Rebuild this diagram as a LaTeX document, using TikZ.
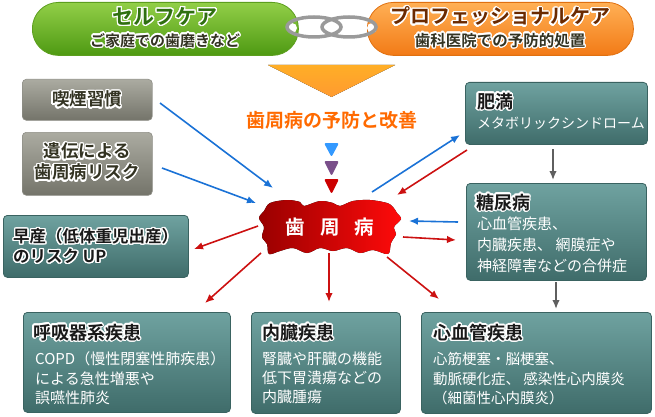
\documentclass[tikz,border=0pt]{standalone}
\usepackage{fontspec}
\setmainfont{Noto Sans CJK JP}[BoldFont={Noto Sans CJK JP Bold}]
\usepackage[copies]{contour}
\contourlength{1.3pt}
\contournumber{20}
\usetikzlibrary{arrows.meta}
\definecolor{tealtop}{HTML}{6FA2A0}
\definecolor{tealbot}{HTML}{3F6C6A}
\definecolor{tealedge}{HTML}{3A6361}
\definecolor{greytop}{HTML}{ABABA1}
\definecolor{greybot}{HTML}{74746A}
\definecolor{greyedge}{HTML}{8E8E86}
\definecolor{greentop}{HTML}{92CF48}
\definecolor{greenbot}{HTML}{4E9A12}
\definecolor{greenedge}{HTML}{5C9E1E}
\definecolor{orangetop}{HTML}{FFB055}
\definecolor{orangebot}{HTML}{F27A16}
\definecolor{orangeedge}{HTML}{E07010}
\definecolor{arrblue}{HTML}{1A72D6}
\definecolor{arrred}{HTML}{CC1111}
\definecolor{arrgrey}{HTML}{5F5F5F}
\definecolor{bigtri}{HTML}{FF9A30}
\definecolor{titgreen}{HTML}{2F7010}
\definecolor{titbrown}{HTML}{6B2A00}
\definecolor{orangetext}{HTML}{FF6A00}
\definecolor{blobdark}{HTML}{990000}
\definecolor{blobred}{HTML}{FF0A0A}
\definecolor{triblue}{HTML}{3399FF}
\definecolor{tripurple}{HTML}{7A4F8A}
\definecolor{trired}{HTML}{CC0000}
\definecolor{darktext}{HTML}{333322}
\definecolor{chain}{HTML}{9A9A9A}
\tikzset{
  box/.style={rounded corners=4pt, inner sep=0pt, anchor=north west},
  tealbox/.style={box, draw=tealedge, line width=0.8pt, top color=tealtop, bottom color=tealbot},
  greybox/.style={box, draw=greyedge, line width=0.6pt, top color=greytop, bottom color=greybot},
  pill/.style={anchor=north west, inner sep=0pt, minimum width=266pt, minimum height=53pt, rounded corners=26pt, line width=0.8pt},
  ttl/.style={inner sep=0pt, anchor=west, text=black!90, font=\bfseries\fontsize{18}{20}\selectfont},
  bod/.style={inner sep=0pt, anchor=west, text=white, font=\fontsize{15}{18}\selectfont},
  gtxt/.style={inner sep=0pt, text=darktext, font=\bfseries\fontsize{17.5}{20}\selectfont},
  arr/.style={line width=1.6pt, -{Latex[length=9pt,width=7.5pt]}},
  barr/.style={arr, draw=arrblue},
  rarr/.style={arr, draw=arrred},
  garr/.style={arr, draw=arrgrey},
  link/.style={draw=chain, line width=3.5pt}
}
\begin{document}
\begin{tikzpicture}[x=1pt,y=-1pt]
\useasboundingbox (0,0) rectangle (655,417);
% pills
\node[pill, draw=greenedge, top color=greentop, bottom color=greenbot] (self) at (32,2) {};
\node[pill, draw=orangeedge, top color=orangetop, bottom color=orangebot] (pro) at (367,2) {};
\fill[white] (292,28) circle (5);
\fill[white] (372,28) circle (5);
\draw[link] (314,27) ellipse (27 and 10);
\draw[link] (349,27) ellipse (27 and 10);
\node[inner sep=0pt, text=titgreen, font=\bfseries\fontsize{21}{24}\selectfont] (selft) at (165,17) {\contour{white}{セルフケア}};
\node[inner sep=0pt, text=darktext, font=\bfseries\fontsize{15}{18}\selectfont] (selfs) at (165,41) {\contour{white}{ご家庭での歯磨きなど}};
\node[inner sep=0pt, text=titbrown, font=\bfseries\fontsize{20}{24}\selectfont] (prot) at (500,17) {\contour{white}{プロフェッショナルケア}};
\node[inner sep=0pt, text=darktext, font=\bfseries\fontsize{15.5}{18}\selectfont] (pros) at (500,41) {\contour{white}{歯科医院での予防的処置}};
% big triangle and heading
\fill[top color=bigtri!80!yellow, bottom color=bigtri] (268,65) -- (395,65) -- (331.5,97) -- cycle;
\node[inner sep=0pt, text=orangetext, font=\bfseries\fontsize{19}{22}\selectfont] (prev) at (332,120) {歯周病の予防と改善};
\fill[triblue, rounded corners=2pt] (324,143) -- (339,143) -- (331.5,157) -- cycle;
\fill[tripurple, rounded corners=2pt] (324,161) -- (339,161) -- (331.5,176) -- cycle;
\fill[trired, rounded corners=2pt] (324,179) -- (339,179) -- (331.5,194) -- cycle;
% blob
\fill[left color=blobdark, right color=blobred] plot[smooth cycle, tension=0.55] coordinates {
 (270,203) (287,200) (300,202) (304,206) (320,201) (333,203) (340,206) (353,201) (370,200) (387,203) (393,207) (397,213) (401,219) (394,227) (396,234) (391,243) (388,254) (373,250) (360,253) (347,248) (333,251) (320,248) (307,253) (293,248) (280,251) (269,254) (267,244) (262,237) (264,227) (259,218) (264,211)};
\node[inner sep=0pt, text=white, font=\bfseries\fontsize{19.5}{22}\selectfont] (blob) at (330,227) {歯\hspace{15pt}周\hspace{15pt}病};
% left grey boxes
\node[greybox, minimum width=130pt, minimum height=41pt] (smoke) at (22,79) {};
\node[gtxt] (smoket) at (87,100) {\contour{white}{喫煙習慣}};
\node[greybox, minimum width=130pt, minimum height=63pt] (gene) at (22,132) {};
\node[gtxt] (genet1) at (87,152) {\contour{white}{遺伝による}};
\node[gtxt] (genet2) at (87,173) {\contour{white}{歯周病リスク}};
% preterm
\node[tealbox, minimum width=185pt, minimum height=62pt] (pre) at (3,215) {};
\node[ttl, font=\bfseries\fontsize{16.5}{20}\selectfont] (pret1) at (13,237) {\contour{white}{早産（低体重児出産）}};
\node[ttl, font=\bfseries\fontsize{16.5}{20}\selectfont] (pret2) at (13,257) {\contour{white}{のリスク UP}};
% obesity
\node[tealbox, minimum width=182pt, minimum height=62pt] (obes) at (465,82) {};
\node[ttl] (obest) at (477,102) {\contour{white}{肥満}};
\node[bod, font=\fontsize{14}{18}\selectfont] (obesb) at (477,123) {メタボリックシンドローム};
% diabetes
\node[tealbox, minimum width=180pt, minimum height=97pt] (diab) at (466,183) {};
\node[ttl] (diabt) at (476,203) {\contour{white}{糖尿病}};
\node[bod] (diab1) at (477,224) {心血管疾患、};
\node[bod] (diab2) at (477,245) {内臓疾患、 網膜症や};
\node[bod] (diab3) at (477,266) {神経障害などの合併症};
% bottom boxes
\node[tealbox, minimum width=207pt, minimum height=100pt] (resp) at (23,312) {};
\node[ttl] (respt) at (33,333) {\contour{white}{呼吸器系疾患}};
\node[bod] (resp1) at (35,359) {COPD（慢性閉塞性肺疾患）};
\node[bod] (resp2) at (35,379) {による急性増悪や};
\node[bod] (resp3) at (35,398) {誤嚥性肺炎};
\node[tealbox, minimum width=149pt, minimum height=101pt] (intl) at (251,312) {};
\node[ttl] (intlt) at (262,333) {\contour{white}{内臓疾患}};
\node[bod] (intl1) at (262,359) {腎臓や肝臓の機能};
\node[bod] (intl2) at (262,378) {低下胃潰瘍などの};
\node[bod] (intl3) at (262,397) {内臓腫瘍};
\node[tealbox, minimum width=230pt, minimum height=101pt] (card) at (421,312) {};
\node[ttl] (cardt) at (433,333) {\contour{white}{心血管疾患}};
\node[bod, font=\fontsize{14.5}{18}\selectfont] (card1) at (433,359) {心筋梗塞・脳梗塞、};
\node[bod, font=\fontsize{14.5}{18}\selectfont] (card2) at (433,379) {動脈硬化症、 感染性心内膜炎};
\node[bod, font=\fontsize{14.5}{18}\selectfont] (card3) at (433,398) {（細菌性心内膜炎）};
% arrow end points
\coordinate (a1s) at (160,103); \coordinate (a1e) at (273,188);
\coordinate (a2s) at (162,168); \coordinate (a2e) at (256,203);
\coordinate (a3s) at (372,192); \coordinate (a3e) at (460,135);
\coordinate (a4s) at (458,222); \coordinate (a4e) at (409,221);
\coordinate (a5s) at (467,150); \coordinate (a5e) at (397,195);
\coordinate (a6s) at (403,237); \coordinate (a6e) at (456,240);
\coordinate (a7s) at (258,226); \coordinate (a7e) at (194,249);
\coordinate (a8s) at (261,253); \coordinate (a8e) at (205,303);
\coordinate (a9s) at (329,253); \coordinate (a9e) at (329,302);
\coordinate (a10s) at (387,257); \coordinate (a10e) at (439,299);
\coordinate (a11s) at (553,149); \coordinate (a11e) at (553,180);
\coordinate (a12s) at (556,282); \coordinate (a12e) at (556,309);
\draw[barr] (a1s) -- (a1e);
\draw[barr] (a2s) -- (a2e);
\draw[barr] (a3s) -- (a3e);
\draw[barr] (a4s) -- (a4e);
\draw[rarr] (a5s) -- (a5e);
\draw[rarr] (a6s) -- (a6e);
\draw[rarr] (a7s) -- (a7e);
\draw[rarr] (a8s) -- (a8e);
\draw[rarr] (a9s) -- (a9e);
\draw[rarr] (a10s) -- (a10e);
\draw[garr] (a11s) -- (a11e);
\draw[garr] (a12s) -- (a12e);
\end{tikzpicture}
\end{document}
